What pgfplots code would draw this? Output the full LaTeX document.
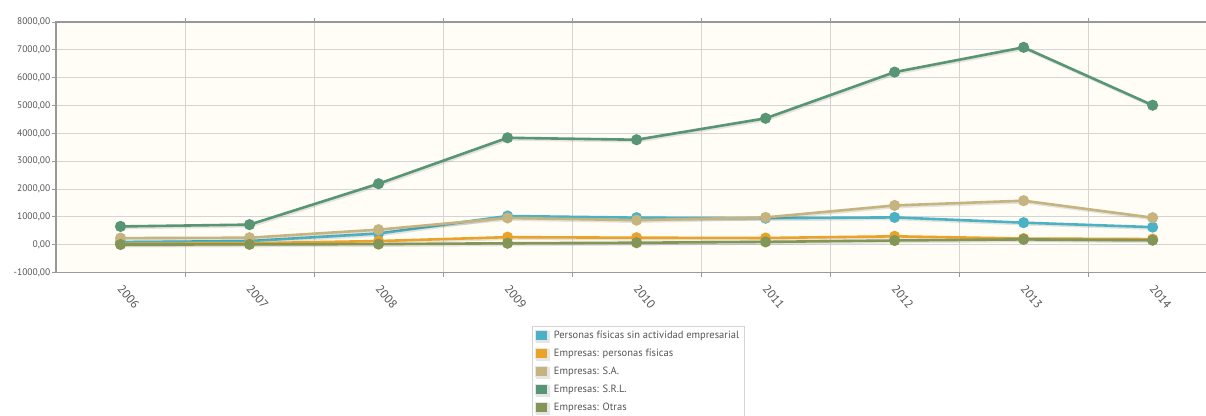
\documentclass[border=0pt]{standalone}
\usepackage{pgfplots}
\pgfplotsset{compat=1.18}
\usepackage{fontspec}
\setmainfont{PT Sans}
\definecolor{c1}{HTML}{4BB2C5}
\definecolor{c2}{HTML}{EAA228}
\definecolor{c3}{HTML}{C5B47F}
\definecolor{c4}{HTML}{579575}
\definecolor{c5}{HTML}{839557}
\definecolor{bg}{HTML}{FFFDF6}
\definecolor{gridc}{HTML}{D4D4D4}
\definecolor{axc}{HTML}{999999}
\definecolor{txt}{HTML}{555555}
\begin{document}
\begin{tikzpicture}[x=1pt,y=1pt]
\useasboundingbox (0,0) rectangle (1206,415);
\begin{axis}[
  at={(56pt,142.5pt)}, anchor=south west,
  scale only axis, width=1155pt, height=250.5pt,
  xmin=-0.5, xmax=8.453, ymin=-1000, ymax=8000,
  ytick={-1000,0,...,8000},
  xtick={0,...,8},
  xticklabels={2006,2007,2008,2009,2010,2011,2012,2013,2014},
  minor xtick={0.5,1.5,...,7.5},
  ymajorgrids, xminorgrids,
  major grid style={gridc, line width=1pt},
  minor grid style={gridc, line width=1pt},
  axis background/.style={fill=bg},
  axis line style={axc, line width=1.5pt},
  tick align=outside,
  major tick length=4pt, minor tick length=4pt,
  major x tick style={draw=none},
  minor x tick style={axc, line width=0.8pt},
  major y tick style={axc, line width=0.8pt},
  ticklabel style={font=\fontsize{9.5}{11}\selectfont, text=txt},
  /pgf/number format/assume math mode=true,
  yticklabel style={inner sep=1.5pt, /pgf/number format/.cd, fixed, fixed zerofill, precision=2, use comma, 1000 sep={}},
  xticklabel style={font=\fontsize{12}{14}\selectfont, rotate=-50, anchor=north west, inner sep=0pt, xshift=7.7pt, yshift=-2.5pt},
  legend style={at={(0.4122,-0.212)}, anchor=north west, draw=gridc, fill=white,
    font=\fontsize{10.5}{12}\selectfont, text=txt, row sep=5pt, inner sep=3pt,
    cells={anchor=west}},
  legend image code/.code={\fill[#1, mark=none, draw=white!80!gray, line width=0.6pt] (0pt,-5pt) rectangle (12pt,5pt); \path (15pt,0pt);},
  legend cell align=left,
  every axis plot/.append style={line width=2.6pt, mark=*, mark size=4.2pt, mark options={solid},
    preaction={draw=black, opacity=0.10, transform canvas={shift={(1.2pt,-1.6pt)}}}},
]
\addplot[c1] coordinates {(0,90)(1,130)(2,400)(3,1030)(4,970)(5,950)(6,980)(7,790)(8,630)};
\addlegendentry{Personas físicas sin actividad empresarial}
\addplot[c2] coordinates {(0,30)(1,50)(2,130)(3,270)(4,250)(5,240)(6,300)(7,220)(8,200)};
\addlegendentry{Empresas: personas físicas}
\addplot[c3] coordinates {(0,235)(1,250)(2,540)(3,960)(4,880)(5,980)(6,1410)(7,1580)(8,970)};
\addlegendentry{Empresas: S.A.}
\addplot[c4] coordinates {(0,655)(1,720)(2,2190)(3,3840)(4,3770)(5,4540)(6,6200)(7,7090)(8,5010)};
\addlegendentry{Empresas: S.R.L.}
\addplot[c5] coordinates {(0,5)(1,10)(2,20)(3,50)(4,70)(5,100)(6,150)(7,190)(8,160)};
\addlegendentry{Empresas: Otras}
\end{axis}
\end{tikzpicture}
\end{document}
